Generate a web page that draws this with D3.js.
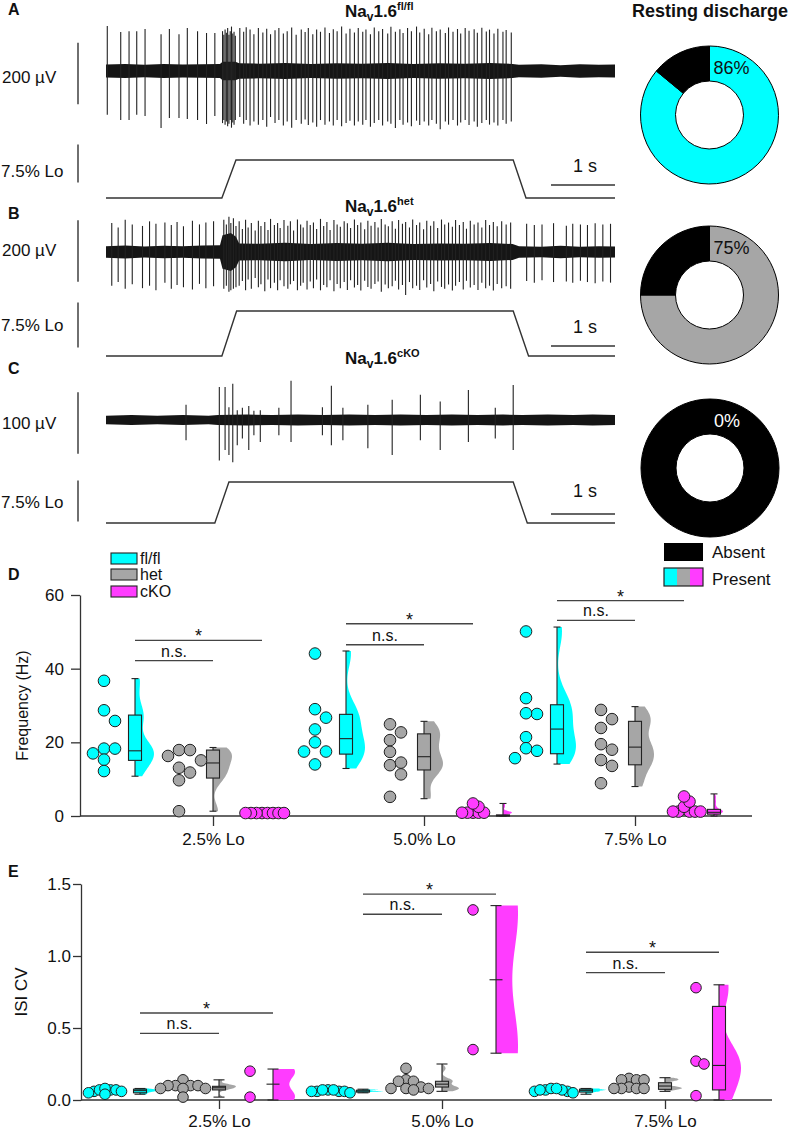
<!DOCTYPE html>
<html><head><meta charset="utf-8">
<script src="https://cdn.jsdelivr.net/npm/d3@7"></script>
<style>body{margin:0;background:#fff}svg{display:block}</style>
</head><body><svg id="fig" width="790" height="1131"></svg>
<script>
// ---------------- DATA ----------------
const genotypes = ["fl/fl", "het", "cKO"];
const restingPercent = [86, 75, 0];
const scaleBarUV = [200, 200, 100];
const recordEnd = 7.95;            // s
const stimTimesA = [0, 1.81, 2.03, 6.36, 6.56, 7.95];
const stimTimesB = [0, 1.81, 2.04, 6.36, 6.60, 7.95];
const stimTimesC = [0, 1.70, 1.92, 6.36, 6.58, 7.95];
const stimLevels = [0, 0, 7.5, 7.5, 0, 0];   // % Lo

// spikes: [time s, up µV, down µV]
const spikesA = [[0.02,147,143],[0.23,127,160],[0.36,130,160],[0.48,130,143],[0.61,137,147],[0.86,120,186],[0.99,137,153],[1.14,120,153],[1.27,140,157],[1.43,130,160],[1.57,124,173],[1.70,124,147],
[1.82,130,170],[1.84,118,160],[1.86,135,175],[1.88,125,165],[1.90,140,180],[1.92,118,172],[1.94,130,160],[1.96,145,185],[1.98,122,168],[2.00,128,175],[2.02,115,160],
[2.09,140,150],[2.15,128,172],[2.19,143,160],[2.25,135,178],[2.31,120,165],[2.38,140,175],[2.45,126,160],[2.51,138,182],[2.57,120,150],[2.64,133,170],[2.70,140,160],[2.77,122,178],[2.83,130,165],[2.90,142,185],[2.97,118,160],[3.05,135,172],[3.11,127,158],[3.16,140,176],[3.23,120,168],[3.29,135,182],[3.35,128,160],[3.42,142,175],[3.49,124,165],[3.55,136,178],[3.61,130,160],[3.68,145,180],[3.75,122,170],[3.81,138,162],[3.88,126,178],
[3.94,140,165],[4.01,128,175],[4.06,135,160],[4.13,120,182],[4.19,142,170],[4.26,130,160],[4.32,137,178],[4.40,122,165],[4.45,144,172],[4.52,128,186],[4.59,136,160],[4.64,124,175],[4.71,140,168],[4.77,130,180],[4.85,145,162],[4.90,126,176],[4.97,138,165],[5.04,120,178],[5.09,141,160],[5.16,130,172],[5.22,135,190],[5.30,124,165],[5.35,142,175],[5.42,128,160],[5.49,137,178],[5.54,122,168],[5.61,140,160],[5.67,131,176],[5.75,136,165],[5.80,125,182],[5.87,141,170],[5.94,129,160],[5.99,135,175],[6.06,122,168],[6.12,138,178],[6.20,128,160],[6.25,134,172],[6.33,126,165]];
const spikesB = [[0.09,95,110],[0.19,80,98],[0.30,105,120],[0.41,90,105],[0.57,85,118],[0.68,100,110],[0.78,92,125],[0.92,96,100],[1.02,88,120],[1.11,98,108],[1.21,84,115],[1.35,102,122],[1.46,90,104],[1.56,96,118],[1.68,100,112],
[1.84,105,120],[1.88,90,110],[1.92,115,130],[1.95,95,125],[1.99,110,120],[2.03,85,115],[2.08,100,110],[2.13,75,95],[2.18,105,125],[2.22,80,90],[2.27,95,120],[2.33,70,85],[2.38,102,115],[2.42,85,105],[2.48,98,128],[2.53,72,90],[2.57,108,118],[2.63,88,100],[2.68,95,125],[2.72,78,92],[2.78,104,112],[2.84,86,120],[2.88,100,105],[2.93,70,95],[2.99,106,125],[3.04,90,110],[3.08,80,100],[3.14,102,122],[3.19,88,96],[3.24,96,118],[3.29,75,90],[3.35,108,125],[3.40,85,108],[3.45,98,115],[3.50,72,92],[3.56,104,128],[3.61,90,104],[3.66,82,118],[3.72,100,98],[3.77,94,124],[3.82,78,92],[3.88,106,116],[3.93,88,108],[3.98,96,126],[4.04,74,94],[4.09,102,114],[4.14,86,120],[4.20,98,104],[4.25,80,96],[4.30,108,130],[4.36,90,106],[4.41,84,118],[4.47,100,112],[4.52,76,94],[4.57,104,122],[4.63,92,108],[4.68,98,140],[4.74,80,98],[4.79,106,118],[4.85,88,110],[4.90,96,124],[4.96,74,92],[5.01,102,116],[5.07,86,104],[5.12,100,128],[5.18,78,96],[5.24,106,114],[5.29,90,120],[5.35,96,106],[5.41,82,126],[5.46,104,110],[5.52,88,98],[5.58,98,122],[5.63,76,94],[5.69,102,116],[5.75,90,108],[5.81,96,124],[5.87,80,100],[5.93,104,118],[5.99,88,110],[6.05,98,126],[6.11,84,104],[6.18,100,118],[6.25,90,112],[6.32,96,120],
[6.57,92,95],[6.69,88,100],[6.81,90,92],[6.99,94,98],[7.19,86,96],[7.29,92,100],[7.41,90,94],[7.52,88,98],[7.64,94,102],[7.76,90,96],[7.88,92,100]];
const spikesC = [[1.25,25,33],[1.77,54,66],[1.86,54,49],[1.92,21,57],[1.98,59,69],[2.05,16,41],[2.13,20,30],[2.23,23,49],[2.31,15,25],[2.41,16,36],[2.70,20,25],[2.89,64,36],[3.38,21,25],[3.52,56,41],[3.70,20,33],[4.09,25,46],[4.47,33,57],[4.91,41,33],[5.22,30,49],[5.66,49,36],[6.08,20,30],[6.36,57,49]];

// noise envelope: [time s, half-amplitude µV]
const noiseA = [[0,21],[0.3,23],[0.6,20],[0.9,23],[1.2,21],[1.5,22],[1.78,23],[1.82,30],[2.02,30],[2.08,25],[2.4,24],[2.8,26],[3.2,23],[3.6,25],[4.0,24],[4.4,26],[4.8,23],[5.2,25],[5.6,24],[6.0,26],[6.35,23],[6.45,20],[6.8,22],[7.1,19],[7.4,22],[7.7,20],[7.95,21]];
const noiseB = [[0,19],[0.3,21],[0.6,18],[0.9,20],[1.2,19],[1.5,21],[1.78,22],[1.82,55],[1.95,62],[2.03,50],[2.08,28],[2.4,27],[2.8,30],[3.2,26],[3.6,29],[4.0,27],[4.4,30],[4.8,26],[5.2,28],[5.6,27],[6.0,29],[6.35,26],[6.45,19],[6.8,17],[7.1,20],[7.4,17],[7.7,19],[7.95,18]];
const noiseC = [[0,7],[0.4,8],[0.8,7],[1.2,8],[1.6,7],[1.75,8],[2.2,9],[2.6,8],[3.0,9],[3.4,8],[3.8,9],[4.2,8],[4.6,9],[5.0,8],[5.4,9],[5.8,8],[6.2,9],[6.5,8],[6.9,9],[7.3,8],[7.6,9],[7.95,8]];

const conditions = ["2.5% Lo", "5.0% Lo", "7.5% Lo"];
// Frequency (Hz)
const freqFl  = [[36.7,28.7,25.8,18.3,17.0,18.3,15.3,12.2],[44.1,29.0,26.7,23.5,20.0,17.5,17.5,14.0],[50.1,32.0,27.7,27.9,21.4,18.4,17.7,15.7]];
const freqHet = [[16.3,17.9,15.1,11.8,9.7,1.3,17.9,13.1],[24.9,22.7,20.6,17.4,13.8,14.5,11.3,5.2],[28.8,26.3,23.9,19.5,18.0,15.2,13.6,8.9]];
const freqCko = [[0.8,0.8,0.8,0.8,0.8,0.8,0.8,0.8],[0.9,0.9,0.9,0.9,0.9,2.5,3.4],[1.2,1.2,1.2,1.2,1.2,2.5,3.9,5.3]];
// box stats: [min, q1, median, q3, max]
const freqFlBox  = [[10.8,15.1,17.7,27.4,37.3],[12.9,16.8,21.0,27.6,44.8],[14.1,16.9,23.6,30.2,51.3]];
const freqHetBox = [[1.3,10.3,14.4,17.9,18.6],[4.7,12.5,16.1,22.3,25.7],[8.0,13.9,18.7,25.7,29.7]];
const freqCkoBox = [[0.8,0.8,0.8,0.8,0.8],[0,0,0.1,0.3,3.4],[0,0.5,1.0,1.8,6.0]];
const freqSigNs   = [42.2, 46.5, 53.1];
const freqSigStar = [47.7, 52.2, 58.5];
// ISI CV
const cvFl  = [[0.06,0.07,0.07,0.08,0.07,0.05,0.04,0.06],[0.06,0.07,0.06,0.07,0.06,0.05,0.06,0.07],[0.07,0.08,0.06,0.07,0.08,0.06,0.05,0.07]];
const cvHet = [[0.14,0.10,0.10,0.10,0.10,0.08,0.08,0.08,0.02],[0.22,0.14,0.13,0.13,0.09,0.08,0.08,0.08,0.07],[0.15,0.14,0.14,0.14,0.09,0.08,0.08,0.08,0.08]];
const cvCko = [[0.20,0.02],[1.32,0.35],[0.78,0.27,0.25,0.03]];
const cvFlBox  = [[0.04,0.05,0.065,0.075,0.08],[0.05,0.055,0.062,0.068,0.075],[0.04,0.055,0.065,0.075,0.08]];
const cvHetBox = [[0.02,0.07,0.085,0.095,0.14],[0.06,0.09,0.11,0.13,0.25],[0.06,0.074,0.097,0.12,0.155]];
const cvCkoBox = [[0.0,0.11,0.11,0.11,0.215],[0.325,0.835,0.835,0.835,1.35],[0.0,0.07,0.24,0.65,0.80]];
const cvSigNs   = [0.463, 1.29, 0.884];
const cvSigStar = [0.604, 1.43, 1.026];

// ---------------- STYLE / LAYOUT ----------------
const FONT = '"Liberation Sans", Arial, Helvetica, sans-serif';
const colors = {"fl/fl": "#00ffff", "het": "#a6a6a6", "cKO": "#ff3cff"};
const ink = "#111";
const lineCol = "#333";
const svg = d3.select("#fig").attr("font-family", FONT);

// panel letters
[["A",15],["B",219],["C",374],["D",580],["E",877]].forEach(([t,y]) =>
  svg.append("text").attr("x",8).attr("y",y).attr("font-size",16).attr("font-weight","bold").attr("fill",ink).text(t));

// ---------------- TRACES ----------------
const traceLayout = [
  {center:71,  uvBarC:73.5, loBarC:163.5, uvLabY:83,  loLabY:177, stimBase:198, stimTop:160, sbY:185, sbLabY:172, titleY:17},
  {center:252, uvBarC:251,  loBarC:325,   uvLabY:256, loLabY:331, stimBase:356, stimTop:311, sbY:346, sbLabY:333, titleY:212},
  {center:420, uvBarC:423,  loBarC:501,   uvLabY:429, loLabY:508, stimBase:523, stimTop:482, sbY:514, sbLabY:497, titleY:364}
];
const spikeSets = [spikesA, spikesB, spikesC];
const noiseSets = [noiseA, noiseB, noiseC];
const stimSets = [stimTimesA, stimTimesB, stimTimesC];

traceLayout.forEach((L, i) => {
  const g = svg.append("g");
  const x = d3.scaleLinear().domain([0, recordEnd]).range([106, 615]);
  const y = d3.scaleLinear().domain([0, scaleBarUV[i]]).range([L.center, L.center - 61.3]);
  // noise band
  g.append("path").datum(noiseSets[i])
    .attr("d", d3.area().x(d => x(d[0])).y0(d => y(-d[1])).y1(d => y(d[1])))
    .attr("fill", "#151515");
  // spikes
  g.selectAll("line.sp").data(spikeSets[i]).join("line").attr("class","sp")
    .attr("x1", d => x(d[0])).attr("x2", d => x(d[0]))
    .attr("y1", d => y(d[1])).attr("y2", d => y(-d[2]))
    .attr("stroke", "#222").attr("stroke-width", 1.1);
  // stimulus
  const ys = d3.scaleLinear().domain([0, 7.5]).range([L.stimBase, L.stimTop]);
  g.append("path").datum(d3.zip(stimSets[i], stimLevels))
    .attr("d", d3.line().x(d => x(d[0])).y(d => ys(d[1])))
    .attr("fill","none").attr("stroke", lineCol).attr("stroke-width", 1.4);
  // vertical scale bars
  const uvLen = y(0) - y(scaleBarUV[i]);
  g.append("line").attr("x1",78).attr("x2",78).attr("y1",L.uvBarC - uvLen/2).attr("y2",L.uvBarC + uvLen/2)
    .attr("stroke",lineCol).attr("stroke-width",1.4);
  const loLen = ys(0) - ys(7.5);
  g.append("line").attr("x1",78).attr("x2",78).attr("y1",L.loBarC - loLen/2).attr("y2",L.loBarC + loLen/2)
    .attr("stroke",lineCol).attr("stroke-width",1.4);
  g.append("text").attr("x",2).attr("y",L.uvLabY).attr("font-size",17).attr("fill",ink).text(scaleBarUV[i] + " µV");
  g.append("text").attr("x",1).attr("y",L.loLabY).attr("font-size",17).attr("fill",ink).text("7.5% Lo");
  // time scale bar 1 s
  g.append("line").attr("x1", x(recordEnd - 1)).attr("x2", x(recordEnd)).attr("y1", L.sbY).attr("y2", L.sbY)
    .attr("stroke",lineCol).attr("stroke-width",1.4);
  g.append("text").attr("x", (x(recordEnd - 1) + x(recordEnd)) / 2 + 2).attr("y", L.sbLabY).attr("text-anchor","middle")
    .attr("font-size",18).attr("fill",ink).text("1 s");
  // title
  const t = g.append("text").attr("x",345).attr("y",L.titleY).attr("font-size",17).attr("font-weight","bold").attr("fill",ink);
  t.append("tspan").text("Na");
  t.append("tspan").attr("font-size",12).attr("dy",4).text("v");
  t.append("tspan").attr("dy",-4).text("1.6");
  t.append("tspan").attr("font-size",11).attr("dy",-7).text(genotypes[i]);
});

// ---------------- DONUTS ----------------
svg.append("text").attr("x",710).attr("y",17).attr("text-anchor","middle").attr("font-size",18)
  .attr("font-weight","bold").attr("fill",ink).text("Resting discharge");
const donutCenters = [[709.5,115],[709.5,295],[710,468]];
const pie = d3.pie().sort(null);
const arc = d3.arc().innerRadius(34).outerRadius(69);
restingPercent.forEach((p, i) => {
  const [cx, cy] = donutCenters[i];
  const g = svg.append("g").attr("transform", `translate(${cx},${cy})`);
  const slices = pie([p, 100 - p]);
  const fills = [colors[genotypes[i]], "#000"];
  g.selectAll("path").data(slices.map((s, k) => ({s, k})).filter(d => d.s.value > 0)).join("path")
    .attr("d", d => arc(d.s)).attr("fill", d => fills[d.k]).attr("stroke", "#000").attr("stroke-width", 1);
  g.append("text").attr("x",4).attr("y",-41).attr("font-size",18).attr("fill", p > 0 ? ink : "#fff").text(p + "%");
});
// Absent / Present legend
svg.append("rect").attr("x",664).attr("y",543).attr("width",39).attr("height",18).attr("fill","#000");
svg.append("text").attr("x",712).attr("y",558).attr("font-size",17).attr("fill",ink).text("Absent");
genotypes.forEach((gname, k) =>
  svg.append("rect").attr("x",664 + k*13).attr("y",568).attr("width",13).attr("height",18).attr("fill",colors[gname]));
svg.append("rect").attr("x",664).attr("y",568).attr("width",39).attr("height",18).attr("fill","none").attr("stroke","#222").attr("stroke-width",1.2);
svg.append("text").attr("x",712).attr("y",585).attr("font-size",17).attr("fill",ink).text("Present");

// ---------------- BOX / VIOLIN / DOT PANELS ----------------
function swarm(vals, y, d) {
  const order = vals.map((v, i) => i).sort((a, b) => vals[b] - vals[a]);
  const placed = [], off = new Array(vals.length);
  for (const i of order) {
    const yy = y(vals[i]);
    for (let k = 0; k < 60; k++) {
      const c = k === 0 ? 0 : (k % 2 ? 1 : -1) * Math.ceil(k / 2) * d;
      if (placed.every(p => Math.hypot(p.x - c, p.y - yy) >= d - 0.01)) { off[i] = c; placed.push({x: c, y: yy}); break; }
    }
  }
  return off;
}

function drawGroup(parent, o) {
  const g = parent.append("g");
  const {xDots, xBox, vals, box, y, color, r, swarmD, boxW, capW, violinW} = o;
  const [lo, q1, med, q3, hi] = box;
  if (hi - lo > 1e-9) {
    // half violin (kernel density of the values, clipped to the whisker range)
    const sd = d3.deviation(vals) || (hi - lo) / 4;
    const h = 0.55 * 1.06 * sd * Math.pow(vals.length, -0.2);
    const N = 60, pts = [];
    for (let k = 0; k <= N; k++) { const t = lo + (hi - lo) * k / N; pts.push([t, d3.mean(vals, v => Math.exp(-0.5 * ((t - v) / h) ** 2))]); }
    const w = d3.scaleLinear().domain([0, d3.max(pts, p => p[1])]).range([0, violinW]);
    g.append("path").datum(pts).attr("d", d3.area().y(p => y(p[0])).x0(xBox).x1(p => xBox + w(p[1])).curve(d3.curveBasis))
      .attr("fill", color);
    // whisker
    g.append("line").attr("x1", xBox).attr("x2", xBox).attr("y1", y(hi)).attr("y2", y(lo)).attr("stroke", "#222").attr("stroke-width", 1.1);
    [hi, lo].forEach(v => g.append("line").attr("x1", xBox - capW/2).attr("x2", xBox + capW/2).attr("y1", y(v)).attr("y2", y(v))
      .attr("stroke", "#222").attr("stroke-width", 1.1));
    g.append("rect").attr("x", xBox - boxW/2).attr("width", boxW).attr("y", y(q3)).attr("height", Math.max(0, y(q1) - y(q3)))
      .attr("fill", color).attr("stroke", "#222").attr("stroke-width", 1.1);
    g.append("line").attr("x1", xBox - boxW/2).attr("x2", xBox + boxW/2).attr("y1", y(med)).attr("y2", y(med)).attr("stroke", "#222").attr("stroke-width", 1.1);
  }
  const off = swarm(vals, y, swarmD);
  g.selectAll("circle").data(vals).join("circle")
    .attr("cx", (d, i) => xDots + off[i]).attr("cy", d => y(d)).attr("r", r)
    .attr("fill", color).attr("stroke", "#222").attr("stroke-width", 1);
}

function drawPanel(P) {
  const g = svg.append("g");
  const y = d3.scaleLinear().domain(P.yDomain).range([P.y0, P.y1]);
  const x = d3.scalePoint().domain(conditions).range(P.xRange);
  const slot = d3.scaleOrdinal().domain(["flDots","flBox","hetDots","hetBox","ckoDots","ckoBox"]).range(P.slots);
  // y axis
  const ya = g.append("g").attr("transform", `translate(${P.axisX},0)`)
    .call(d3.axisLeft(y).tickValues(P.yTicks).tickFormat(d3.format(P.yFmt)).tickSize(P.yTickSize).tickSizeOuter(0).tickPadding(P.yPad));
  ya.attr("font-family", FONT).attr("font-size", 17);
  ya.selectAll("line,path").attr("stroke", lineCol).attr("stroke-width", 1.3);
  ya.selectAll("text").attr("fill", ink);
  // x axis
  g.append("line").attr("x1", P.axisX).attr("x2", P.xEnd).attr("y1", y(0)).attr("y2", y(0)).attr("stroke", lineCol).attr("stroke-width", 1.3);
  const xa = g.append("g").attr("transform", `translate(0,${y(0)})`)
    .call(d3.axisBottom(x).tickSize(P.xTickSize).tickSizeOuter(0).tickPadding(P.xPad));
  xa.select(".domain").remove();
  xa.attr("font-family", FONT).attr("font-size", 17);
  xa.selectAll("line").attr("stroke", lineCol).attr("stroke-width", 1.3);
  xa.selectAll("text").attr("fill", ink);
  // y title
  g.append("text").attr("transform", `translate(${P.titleX},${(P.y0 + P.y1) / 2}) rotate(-90)`).attr("text-anchor","middle")
    .attr("font-size", P.titleSize).attr("fill", ink).text(P.title);
  // groups
  conditions.forEach((c, ci) => {
    const xc = x(c);
    const spec = [["fl/fl", P.fl, P.flBox, "flDots", "flBox"], ["het", P.het, P.hetBox, "hetDots", "hetBox"], ["cKO", P.cko, P.ckoBox, "ckoDots", "ckoBox"]];
    spec.forEach(([gn, vals, boxes, sd, sb]) => drawGroup(g, {
      xDots: xc + slot(sd), xBox: xc + slot(sb), vals: vals[ci], box: boxes[ci], y, color: colors[gn],
      r: P.r, swarmD: P.swarmD[gn], boxW: 13, capW: P.capW, violinW: P.violinW[gn]}));
    // significance bars
    const x0 = xc + slot("flBox");
    [[P.sigNs[ci], xc + slot("hetBox"), "n.s."], [P.sigStar[ci], xc + slot(P.starEnd), "*"]].forEach(([v, x1, lab]) => {
      g.append("line").attr("x1", x0).attr("x2", x1).attr("y1", y(v)).attr("y2", y(v)).attr("stroke", "#444").attr("stroke-width", 1.3);
      g.append("text").attr("x", (x0 + x1) / 2).attr("y", y(v) + (lab === "*" ? 2 : -4)).attr("text-anchor","middle")
        .attr("font-size", lab === "*" ? 18 : 16).attr("fill", ink).text(lab);
    });
  });
}

drawPanel({
  yDomain:[0,60], y0:816, y1:595, xRange:[213,635], slots:[-109,-78,-34,0,49,79], axisX:80, xEnd:752,
  yTicks:[0,20,40,60], yFmt:"d", yTickSize:9, yPad:7, xTickSize:10, xPad:7,
  title:"Frequency (Hz)", titleX:28, titleSize:16,
  fl:freqFl, het:freqHet, cko:freqCko, flBox:freqFlBox, hetBox:freqHetBox, ckoBox:freqCkoBox,
  sigNs:freqSigNs, sigStar:freqSigStar, starEnd:"ckoDots",
  r:5.8, swarmD:{"fl/fl":11, "het":11, "cKO":5.5}, capW:7, violinW:{"fl/fl":19, "het":19, "cKO":9}
});
drawPanel({
  yDomain:[0,1.5], y0:1100, y1:884, xRange:[219,665], slots:[-114,-79,-36,0,31,54], axisX:81, xEnd:772,
  yTicks:[0,0.5,1,1.5], yFmt:".1f", yTickSize:8, yPad:2, xTickSize:9, xPad:6,
  title:"ISI CV", titleX:27, titleSize:17,
  fl:cvFl, het:cvHet, cko:cvCko, flBox:cvFlBox, hetBox:cvHetBox, ckoBox:cvCkoBox,
  sigNs:cvSigNs, sigStar:cvSigStar, starEnd:"ckoBox",
  r:5.3, swarmD:{"fl/fl":5.5, "het":7.5, "cKO":8}, capW:11, violinW:{"fl/fl":20, "het":17, "cKO":22}
});

// genotype legend (panel D)
genotypes.forEach((gn, k) => {
  const yy = [553, 569, 586][k];
  svg.append("rect").attr("x",111).attr("y",yy).attr("width",26).attr("height",11).attr("fill",colors[gn]).attr("stroke","#222").attr("stroke-width",1.1);
  svg.append("text").attr("x",140).attr("y",yy + 11).attr("font-size",16).attr("fill",ink).text(gn);
});
</script></body></html>
